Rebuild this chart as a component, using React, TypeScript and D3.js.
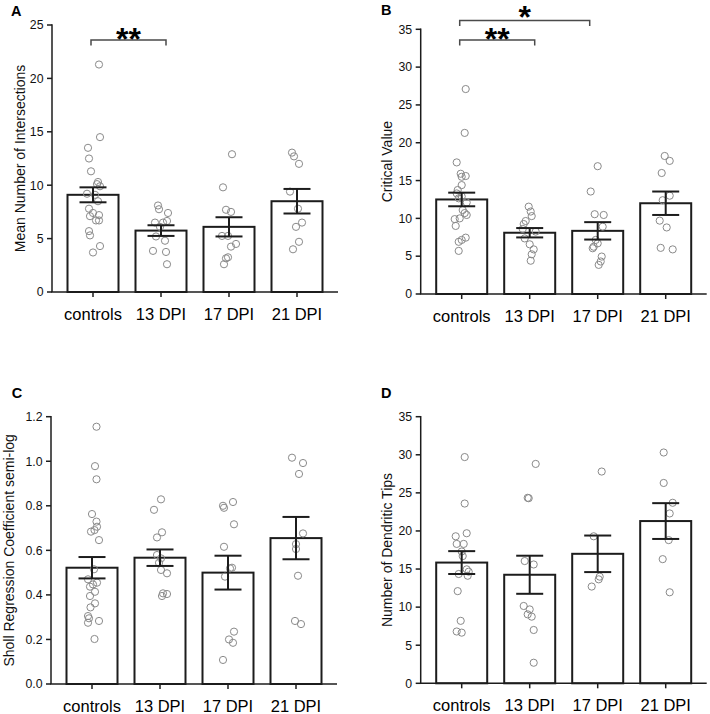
import React from "react";
import * as d3 from "d3";

const FONT = "'Liberation Sans', Arial, Helvetica, sans-serif";

const categories = ["controls", "13 DPI", "17 DPI", "21 DPI"];

// Panel A: Mean Number of Intersections
const aMeans = [9.1, 5.75, 6.1, 8.5];
const aSems = [0.7, 0.5, 0.9, 1.15];
const aPoints = [
  [21.3, 14.5, 13.5, 12.5, 11.3, 10.3, 10.1, 9.9, 9.2, 9.1, 8.5, 7.8, 7.4, 7.1, 7.2, 6.7, 6.7, 5.7, 5.3, 4.3, 3.7],
  [8.1, 7.75, 7.4, 6.65, 6.5, 6.5, 6.1, 5.2, 4.8, 3.85, 3.75, 2.6],
  [12.9, 9.8, 7.7, 7.5, 5.25, 5.25, 4.5, 4.25, 3.25, 3.15, 2.6],
  [13.05, 12.7, 12.0, 9.4, 7.8, 6.5, 6.1, 4.7, 4.0],
];
const aJitter = [
  [0.12, 0.14, -0.1, -0.08, -0.04, 0.1, 0.08, 0.14, -0.12, 0.04, 0.1, -0.08, 0, -0.06, 0.12, 0.06, 0.12, -0.08, -0.06, 0.14, 0],
  [-0.06, -0.04, 0.14, 0.12, 0.04, -0.12, -0.02, -0.1, 0.08, -0.16, 0.1, 0.12],
  [0.06, -0.12, -0.06, 0.04, -0.14, -0.02, 0.14, 0.04, -0.02, -0.06, -0.1],
  [-0.1, -0.06, 0.04, -0.14, 0.02, 0.1, -0.02, 0.04, -0.08],
];
const aTicks = [0, 5, 10, 15, 20, 25];

// Panel B: Critical Value
const bMeans = [12.5, 8.1, 8.35, 12.0];
const bSems = [0.9, 0.62, 1.15, 1.55];
const bPoints = [
  [27.1, 21.3, 17.4, 15.9, 15.6, 15.5, 14.4, 13.75, 13.3, 12.9, 12.65, 12.1, 11.1, 10.7, 10.45, 9.9, 10.0, 9.0, 7.45, 7.15, 6.9, 5.7],
  [11.55, 10.9, 10.3, 9.65, 9.25, 8.6, 8.25, 7.35, 6.57, 5.9, 5.25, 4.4],
  [16.9, 13.55, 10.55, 10.45, 8.9, 7.15, 6.7, 6.25, 6.05, 4.95, 4.3, 3.85],
  [18.25, 17.6, 16.0, 13.0, 12.4, 9.7, 8.8, 6.1, 5.9],
];
const bJitter = [
  [0.08, 0.06, -0.1, -0.02, 0.08, 0, 0, -0.08, -0.1, 0, -0.06, 0.1, 0.02, 0.06, 0.1, -0.14, -0.04, -0.12, 0.08, 0, -0.06, -0.06],
  [-0.02, 0.02, 0.04, -0.08, -0.12, -0.14, 0.12, -0.1, 0, 0.08, 0.04, 0.02],
  [0, -0.14, -0.06, 0.12, 0.1, -0.04, 0, -0.08, -0.1, 0.08, 0.06, 0.02],
  [-0.02, 0.08, -0.08, 0.08, -0.06, -0.12, 0.02, -0.1, 0.14],
];
const bTicks = [0, 5, 10, 15, 20, 25, 30, 35];

// Panel C: Sholl Regression Coefficient semi-log
const cMeans = [0.522, 0.567, 0.5, 0.655];
const cSems = [0.048, 0.037, 0.076, 0.095];
const cPoints = [
  [1.155, 0.978, 0.919, 0.763, 0.729, 0.706, 0.684, 0.691, 0.646, 0.515, 0.47, 0.455, 0.437, 0.447, 0.414, 0.395, 0.362, 0.344, 0.305, 0.295, 0.275, 0.283, 0.202],
  [0.829, 0.782, 0.681, 0.658, 0.579, 0.564, 0.544, 0.512, 0.497, 0.407, 0.404, 0.395],
  [0.8, 0.791, 0.817, 0.717, 0.616, 0.519, 0.482, 0.522, 0.235, 0.2, 0.185, 0.108],
  [1.016, 0.992, 0.943, 0.676, 0.628, 0.606, 0.486, 0.283, 0.269],
];
const cJitter = [
  [0.09, 0.06, 0.09, 0, 0.09, 0.1, -0.02, 0.05, 0.14, 0.04, -0.08, 0.1, -0.04, 0.02, 0.06, -0.04, 0.06, -0.03, -0.08, -0.06, -0.08, 0.14, 0.05],
  [0.02, -0.12, 0.04, -0.06, -0.06, 0.02, -0.02, 0.02, 0.14, 0.06, 0.14, 0.04],
  [-0.1, -0.08, 0.1, 0.12, -0.08, 0.04, -0.06, 0.08, 0.12, 0.02, 0.1, -0.1],
  [-0.08, 0.14, 0.06, 0.14, 0, 0, 0.04, -0.02, 0.1],
];
const cTicks = [0, 0.2, 0.4, 0.6, 0.8, 1.0, 1.2];

// Panel D: Number of Dendritic Tips
const dMeans = [15.85, 14.25, 17.0, 21.3];
const dSems = [1.5, 2.5, 2.4, 2.35];
const dPoints = [
  [29.7, 23.6, 19.7, 19.3, 18.3, 18.3, 17.3, 16.7, 14.96, 14.65, 14.35, 14.12, 12.1, 8.2, 6.8, 6.65],
  [28.8, 24.35, 24.3, 16.05, 15.6, 10.15, 9.7, 9.05, 8.75, 7.0, 2.7],
  [27.8, 19.3, 14.0, 13.65, 12.7],
  [30.3, 26.3, 23.7, 22.3, 18.8, 16.3, 11.95],
];
const dJitter = [
  [0.06, 0.06, 0.1, -0.12, -0.1, 0.04, 0, 0.02, 0.1, 0.14, -0.06, 0.12, -0.08, -0.02, -0.1, 0],
  [0.12, -0.04, -0.02, -0.1, 0.08, -0.12, 0, -0.04, 0.04, 0.08, 0.08],
  [0.08, -0.08, 0.04, 0.02, -0.12],
  [-0.04, -0.04, 0.14, 0.08, 0.06, -0.06, 0.08],
];
const dTicks = [0, 5, 10, 15, 20, 25, 30, 35];

type Bracket = { from: number; to: number; level: number; label: string };

const aBrackets: Bracket[] = [{ from: 0, to: 1, level: 23.6, label: "**" }];
const bBrackets: Bracket[] = [
  { from: 0, to: 1, level: 33.6, label: "**" },
  { from: 0, to: 2, level: 36.15, label: "*" },
];

type PanelProps = {
  letter: string;
  letterX: number;
  letterY: number;
  axisX: number;
  yTop: number;
  yBottom: number;
  max: number;
  ticks: number[];
  fmt: (v: number) => string;
  yLabel: string;
  yLabelX: number;
  means: number[];
  sems: number[];
  points: number[][];
  jitter: number[][];
  brackets?: Bracket[];
};

const INK = "#1c1c1c";

function Panel(p: PanelProps) {
  const x = d3
    .scaleBand<string>()
    .domain(categories)
    .range([p.axisX + 7, p.axisX + 7 + 272])
    .paddingInner(0.25)
    .paddingOuter(0.125);
  const y = d3.scaleLinear().domain([0, p.max]).range([p.yBottom, p.yTop]);
  const bw = x.bandwidth();
  const cx = (i: number) => (x(categories[i]) as number) + bw / 2;
  const capHalf = 13.5;
  return (
    <g fontFamily={FONT}>
      <text x={p.letterX} y={p.letterY} fontSize={14.5} fontWeight="bold" fill="#000">
        {p.letter}
      </text>
      {p.means.map((m, i) => (
        <rect
          key={"bar" + i}
          x={x(categories[i])}
          y={y(m)}
          width={bw}
          height={y(0) - y(m)}
          fill="#fff"
          stroke={INK}
          strokeWidth={2}
        />
      ))}
      {p.points.map((arr, i) =>
        arr.map((v, j) => (
          <circle
            key={"pt" + i + "_" + j}
            cx={cx(i) + p.jitter[i][j] * 50}
            cy={y(v)}
            r={3.6}
            fill="none"
            stroke="#8a8a8a"
            strokeWidth={1}
          />
        ))
      )}
      {p.means.map((m, i) => (
        <g key={"err" + i} stroke={INK} strokeWidth={2}>
          <line x1={cx(i)} x2={cx(i)} y1={y(m + p.sems[i])} y2={y(m - p.sems[i])} />
          <line x1={cx(i) - capHalf} x2={cx(i) + capHalf} y1={y(m + p.sems[i])} y2={y(m + p.sems[i])} />
          <line x1={cx(i) - capHalf} x2={cx(i) + capHalf} y1={y(m - p.sems[i])} y2={y(m - p.sems[i])} />
        </g>
      ))}
      <line x1={p.axisX} x2={p.axisX} y1={p.yTop - 0.75} y2={p.yBottom} stroke={INK} strokeWidth={1.5} />
      {p.ticks.map((t) => (
        <g key={"yt" + t}>
          <line x1={p.axisX - 5} x2={p.axisX} y1={y(t)} y2={y(t)} stroke={INK} strokeWidth={1.5} />
          <text
            x={p.axisX - 8.5}
            y={y(t)}
            dy="0.35em"
            textAnchor="end"
            fontSize={12.3}
            fill="#111"
          >
            {p.fmt(t)}
          </text>
        </g>
      ))}
      <line x1={p.axisX - 0.75} x2={p.axisX + 286} y1={p.yBottom} y2={p.yBottom} stroke={INK} strokeWidth={1.5} />
      {categories.map((c, i) => (
        <g key={"xt" + c}>
          <line x1={cx(i)} x2={cx(i)} y1={p.yBottom} y2={p.yBottom + 5} stroke={INK} strokeWidth={1.5} />
          <text x={cx(i)} y={p.yBottom + 27.5} textAnchor="middle" fontSize={16.5} fill="#000">
            {c}
          </text>
        </g>
      ))}
      <text
        transform={`translate(${p.yLabelX},${(p.yTop + p.yBottom) / 2}) rotate(-90)`}
        textAnchor="middle"
        fontSize={14}
        fill="#111"
      >
        {p.yLabel}
      </text>
      {(p.brackets || []).map((b, k) => {
        const x1 = cx(b.from) - 2;
        const x2 = cx(b.to) + (b.to === 1 ? 5 : -8);
        const yy = y(b.level);
        return (
          <g key={"br" + k}>
            <path
              d={`M${x1},${yy + 5.5}V${yy}H${x2}V${yy + 5.5}`}
              fill="none"
              stroke="#4a4a4a"
              strokeWidth={1.5}
            />
            <text
              x={(x1 + x2) / 2}
              y={yy + (b.label === "**" ? 10.5 : 7)}
              textAnchor="middle"
              fontSize={32}
              fontWeight="bold"
              fill="#000"
            >
              {b.label}
            </text>
          </g>
        );
      })}
    </g>
  );
}

const fmtInt = (v: number) => d3.format("d")(v);
const fmt1 = (v: number) => d3.format(".1f")(v);

export default function App() {
  return (
    <svg
      width={710}
      height={714}
      style={{ position: "absolute", left: 0, top: 0, background: "#fff" }}
    >
      <rect width={710} height={714} fill="#fff" />
      <Panel
        letter="A"
        letterX={11}
        letterY={15.5}
        axisX={52}
        yTop={25}
        yBottom={292}
        max={25}
        ticks={aTicks}
        fmt={fmtInt}
        yLabel="Mean Number of Intersections"
        yLabelX={25}
        means={aMeans}
        sems={aSems}
        points={aPoints}
        jitter={aJitter}
        brackets={aBrackets}
      />
      <Panel
        letter="B"
        letterX={381}
        letterY={15}
        axisX={420.7}
        yTop={29.3}
        yBottom={294}
        max={35}
        ticks={bTicks}
        fmt={fmtInt}
        yLabel="Critical Value"
        yLabelX={392}
        means={bMeans}
        sems={bSems}
        points={bPoints}
        jitter={bJitter}
        brackets={bBrackets}
      />
      <Panel
        letter="C"
        letterX={11.7}
        letterY={397.7}
        axisX={51}
        yTop={416.7}
        yBottom={684}
        max={1.2}
        ticks={cTicks}
        fmt={fmt1}
        yLabel="Sholl Regression Coefficient semi-log"
        yLabelX={14}
        means={cMeans}
        sems={cSems}
        points={cPoints}
        jitter={cJitter}
      />
      <Panel
        letter="D"
        letterX={381}
        letterY={397.7}
        axisX={420.7}
        yTop={416.7}
        yBottom={683.3}
        max={35}
        ticks={dTicks}
        fmt={fmtInt}
        yLabel="Number of Dendritic Tips"
        yLabelX={392}
        means={dMeans}
        sems={dSems}
        points={dPoints}
        jitter={dJitter}
      />
    </svg>
  );
}
